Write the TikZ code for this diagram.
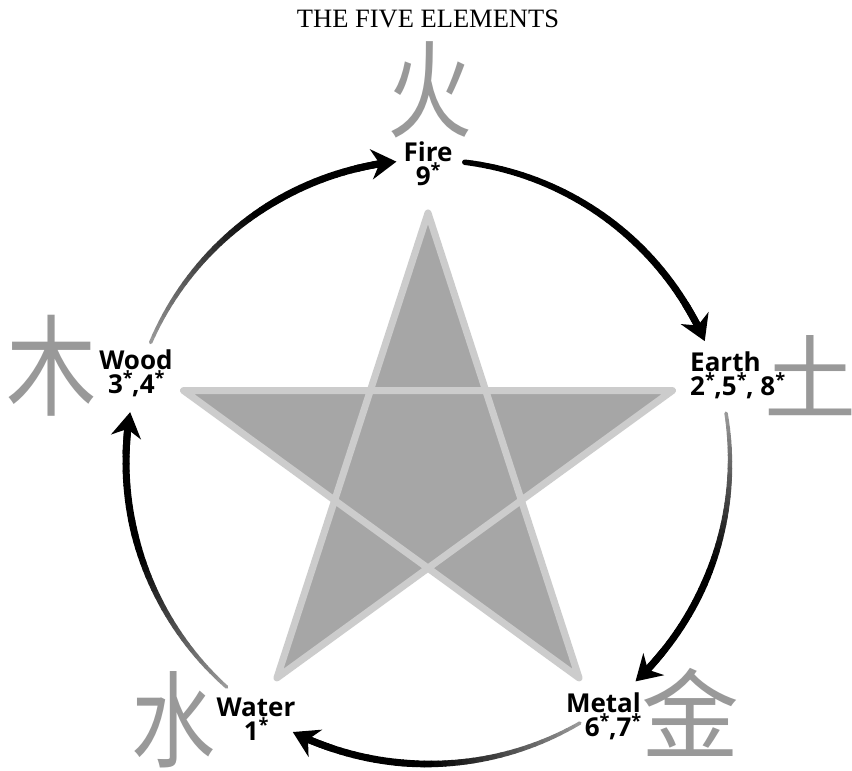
\documentclass[tikz,border=0pt]{standalone}
\usepackage{fontspec}
\setmainfont{Liberation Serif}
\newfontfamily\labelfont{Open Sans}
\newfontfamily\cjkfont{Noto Sans CJK SC}
\usetikzlibrary{arrows.meta}
\definecolor{starfill}{gray}{0.65}
\definecolor{starline}{gray}{0.80}
\definecolor{glyphgray}{gray}{0.60}
\newcommand\sta{\textsuperscript{*}\kern-0.04em}
\newcommand\rr{302}
% gradient arc: #1 start angle, #2 tip angle, #3 start black %, #4 start width
\newcommand\cyclearc[4]{%
  \pgfmathsetmacro\arcend{#2+3}%
  \foreach \i in {0,...,39}{%
    \pgfmathsetmacro\sa{#1+(\arcend-#1)*\i/40}%
    \pgfmathsetmacro\ea{#1+(\arcend-#1)*(\i+1)/40}%
    \pgfmathsetmacro\pc{min(100,#3+(100-#3)*\i/22)}%
    \pgfmathsetmacro\lw{min(7,#4+(7-#4)*\i/25)}%
    \draw[line width=\lw pt, line cap=round, draw=black!\pc!white]
      ([shift={(cc)}]\sa:\rr) arc[start angle=\sa, end angle=\ea, radius=\rr];
  }%
  \pgfmathsetmacro\tipstart{#2+8}%
  \draw[line width=7pt, -{Stealth[length=25pt,width=30pt,inset=8pt]}]
    ([shift={(cc)}]\tipstart:\rr) arc[start angle=\tipstart, end angle=#2, radius=\rr];
}
\tikzset{
  elabel/.style={font=\labelfont\bfseries\fontsize{26}{24}\selectfont, inner sep=0pt},
  glyph/.style={font=\cjkfont\fontsize{100}{100}\selectfont, text=glyphgray, inner sep=0pt},
}
\begin{document}
\begin{tikzpicture}[x=1pt,y=1pt]
\useasboundingbox (0,0) rectangle (852,771);
\fill[white] (0,0) rectangle (852,771);
% title
\node[font=\fontsize{26.5}{26.5}\selectfont, inner sep=0pt] (title) at (428,752) {THE FIVE ELEMENTS};
% centres
\coordinate (sc) at (428,301);
\coordinate (cc) at (428,309);
% star
\filldraw[fill=starfill, draw=starline, line width=7pt, line join=round]
  ([shift={(sc)}]90:257) -- ([shift={(sc)}]234:257) -- ([shift={(sc)}]18:257)
  -- ([shift={(sc)}]162:257) -- ([shift={(sc)}]306:257) -- cycle;
% glyphs
\node[glyph, font=\cjkfont\fontsize{106}{106}\selectfont, xscale=0.8] (gfire) at (430,681) {火};
\node[glyph, font=\cjkfont\fontsize{92}{92}\selectfont] (gearth) at (810,395) {土};
\node[glyph, font=\cjkfont\fontsize{98}{98}\selectfont] (gmetal) at (690,59) {金};
\node[glyph, font=\cjkfont\fontsize{105}{105}\selectfont, xscale=0.8] (gwater) at (173,51) {水};
\node[glyph, font=\cjkfont\fontsize{110}{110}\selectfont, xscale=0.82] (gwood) at (52,405) {木};
% labels
\node[elabel, align=center] (fire) at (428,607) {Fire\\9\sta};
\node[elabel, align=center] (wood) at (136,398) {Wood\\3\sta,4\sta};
\node[elabel, align=left, anchor=west] (earth) at (690,396) {Earth\\2\sta,5\sta, 8\sta};
\node[elabel, align=right, anchor=east] (metal) at (641,55) {Metal\\6\sta,7\sta};
\node[elabel, align=center] (water) at (256,52) {Water\\1\sta};
% cycle arrows
\cyclearc{156.7}{96}{40}{3.5}
\cyclearc{83}{23.6}{100}{5.5}
\cyclearc{9.3}{-46.6}{40}{3.5}
\cyclearc{-59.8}{-116.6}{40}{3.5}
\cyclearc{-131.8}{-189.5}{40}{3.5}
\end{tikzpicture}
\end{document}
